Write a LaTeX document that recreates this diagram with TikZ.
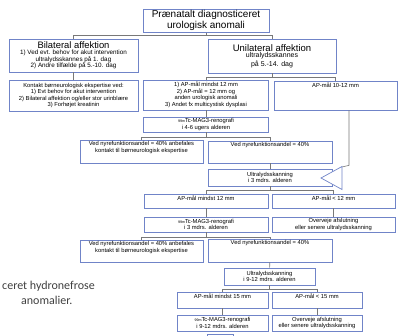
\documentclass[tikz,border=0pt]{standalone}
\usepackage{fontspec}
\setmainfont{Liberation Sans}
\newfontfamily\slidefont{Carlito}
\usetikzlibrary{positioning}
\definecolor{boxblue}{RGB}{112,132,200}
\definecolor{linegray}{RGB}{120,120,120}
\definecolor{slidegray}{RGB}{64,64,64}
\newcommand{\fsmall}{\fontsize{5.8}{6.5}\selectfont}
\newcommand{\fmid}{\fontsize{6.3}{7.4}\selectfont}
\newcommand{\iso}{{\fontsize{3.6}{4}\selectfont 99m}}

\begin{document}
\begin{tikzpicture}[x=1pt, y=-1pt,
    box/.style={draw=boxblue, fill=white, line width=0.7pt, inner sep=0pt, align=center, font=\fsmall},
    topbox/.style={box, label={[font=\fsmall, align=center, anchor=north, inner sep=1.5pt]north:{#1}}},
    conn/.style={draw=linegray, line width=0.6pt}]
  \useasboundingbox (0,0) rectangle (398,336);

  % slide text behind the chart
  \node[font=\slidefont\fontsize{12}{14}\selectfont, text=slidegray, anchor=west, inner sep=0pt] (slidea) at (2,286) {ceret hydronefrose};
  \node[font=\slidefont\fontsize{12}{14}\selectfont, text=slidegray, anchor=west, inner sep=0pt] (slideb) at (21,300) {anomalier.};

  % connectors
  \draw[conn] (206,32) -- ++(0,3) -| (73.5,39);
  \draw[conn] (206,32) -- ++(0,3) -| (272,39);

  \node[box, minimum width=126pt, minimum height=23pt, line width=0.9pt, font=\fontsize{10}{11}\selectfont] (title) at (206,20.5) {Prænatalt diagnosticeret\\urologisk anomali};

  % bilateral
  \node[box, minimum width=129pt, minimum height=33pt] (bilat) at (73.5,55.5) {{\fontsize{9.4}{10}\selectfont Bilateral affektion}\\[-0.5pt]\fmid 1) Ved evt. behov for akut intervention\\\fmid ultralydsskannes på 1. dag\\\fmid 2) Andre tilfælde på 5.-10. dag};
  \node[box, minimum width=129pt, minimum height=31pt] (kontakt) at (73.5,95.5) {Kontakt børneurologisk ekspertise ved:\\1) Evt behov for akut intervention\\2) Bilateral affektion og/eller stor urinblære\\3) Forhøjet kreatinin};
  \draw[conn] (bilat) -- (kontakt);

  % unilateral
  \node[box, minimum width=128pt, minimum height=34pt] (unilat) at (272,56) {{\fontsize{9.5}{10}\selectfont Unilateral affektion}\\\fontsize{7}{8}\selectfont ultralydsskannes\\\fontsize{7}{8}\selectfont på 5.-14. dag};
  \node[box, minimum width=125pt, minimum height=30pt] (apcrit) at (206,95) {1) AP-mål mindst 12 mm\\2) AP-mål = 12 mm og\\anden urologisk anomali\\3) Andet fx multicystisk dysplasi};
  \node[topbox={AP-mål 10-12 mm}, minimum width=123pt, minimum height=29pt] (ap1012) at (335.5,95.5) {};
  \draw[conn] (unilat.south) -- ++(0,4) -| (apcrit.north);
  \draw[conn] (unilat.south) -- ++(0,4) -| (ap1012.north);

  \node[box, minimum width=125pt, minimum height=15pt] (reno1) at (206,124.5) {\iso Tc-MAG3-renografi\\i 4-6 ugers alderen};
  \draw[conn] (apcrit) -- (reno1);

  \node[topbox={Ved nyrefunktionsandel = 40\% anbefales\\kontakt til børneurologisk ekspertise}, minimum width=123pt, minimum height=23pt] (lowfna) at (141.5,151.5) {};
  \node[topbox={Ved nyrefunktionsandel = 40\%}, minimum width=124pt, minimum height=22pt] (okfna) at (270,152) {};
  \draw[conn] (reno1.south) -- ++(0,4.5) -| (lowfna.north);
  \draw[conn] (reno1.south) -- ++(0,4.5) -| (okfna.north);

  \node[box, minimum width=124pt, minimum height=17pt] (usa) at (270,177.5) {Ultralydsskanning\\i 3 mdrs. alderen};
  \draw[conn] (okfna) -- (usa);

  % back arrow from AP-mål 10-12 mm
  \draw[conn] ([xshift=13.5pt]ap1012.south) -- ++(0,55) -- (342,167);
  \draw[draw=boxblue, fill=white, line width=0.7pt] (321,178) -- (342,166.5) -- (342,189.5) -- cycle;

  \node[topbox={AP-mål mindst 12 mm}, minimum width=124pt, minimum height=14pt] (apa) at (206,201) {};
  \node[topbox={AP-mål < 12 mm}, minimum width=123pt, minimum height=14pt] (apb) at (333.5,201) {};
  \draw[conn] (usa.south) -- ++(0,4) -| (apa.north);
  \draw[conn] (usa.south) -- ++(0,4) -| (apb.north);

  \node[box, minimum width=124pt, minimum height=15pt] (reno2) at (206,224.5) {\iso Tc-MAG3-renografi\\i 3 mdrs. alderen};
  \node[box, minimum width=123pt, minimum height=15pt] (stopa) at (333.5,224.5) {Overveje afslutning\\eller senere ultralydsskanning};
  \draw[conn] (apa) -- (reno2);
  \draw[conn] (apb) -- (stopa);

  \node[topbox={Ved nyrefunktionsandel = 40\% anbefales\\kontakt til børneurologisk ekspertise}, minimum width=123pt, minimum height=22pt] (lowfnb) at (141.5,251) {};
  \node[topbox={Ved nyrefunktionsandel = 40\%}, minimum width=124pt, minimum height=23pt] (okfnb) at (270,250.5) {};
  \draw[conn] (reno2.south) -- ++(0,4.5) -| (lowfnb.north);
  \draw[conn] (reno2.south) -- ++(0,4.5) -| (okfnb.north);

  \node[box, minimum width=91pt, minimum height=17pt] (usb) at (269.5,276.5) {Ultralydsskanning\\i 9-12 mdrs. alderen};
  \draw[conn] (okfnb) -- (usb);

  \node[topbox={AP-mål mindst 15 mm}, minimum width=91pt, minimum height=16pt] (apc) at (222.5,300) {};
  \node[topbox={AP-mål < 15 mm}, minimum width=90pt, minimum height=16pt] (apd) at (317,300) {};
  \draw[conn] (usb.south) -- ++(0,3.5) -| (apc.north);
  \draw[conn] (usb.south) -- ++(0,3.5) -| (apd.north);

  \node[box, minimum width=91pt, minimum height=16pt] (reno3) at (222.5,323) {\iso Tc-MAG3-renografi\\i 9-12 mdrs. alderen};
  \node[box, minimum width=90pt, minimum height=16pt] (stopb) at (317,323) {Overveje afslutning\\eller senere ultralydsskanning};
  \draw[conn] (apc) -- (reno3);
  \draw[conn] (apd) -- (stopb);

  % next box, cut off at the lower edge
  \node[box, anchor=north, minimum width=26pt, minimum height=12pt] (nextbox) at (220,333.5) {};
\end{tikzpicture}
\end{document}
